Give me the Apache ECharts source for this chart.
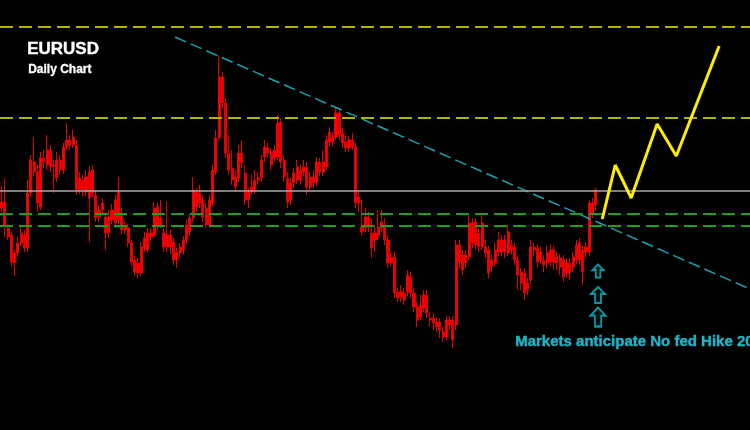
<!DOCTYPE html>
<html>
<head>
<meta charset="utf-8">
<script src="https://cdn.jsdelivr.net/npm/echarts@6/dist/echarts.min.js"></script>
<style>
html,body{margin:0;padding:0;background:#000;}
#chart{width:750px;height:430px;}
</style>
</head>
<body>
<div id="chart"></div>
<script>
// Price levels are in chart units (0 = bottom, 430 = top).
// Candles: [open, close, low, high]
const candles = [
[222,228,218,244],[228,203,193,252],[202,193,190,206],[195,168,164,198],[177,167,154,180],
[177,187,173,194],[187,197,184,204],[195,182,178,200],[182,237,178,250],[237,270,234,275],
[268,258,254,293],[258,227,218,265],[223,272,220,278],[272,268,262,280],[265,280,260,295],
[280,263,258,285],[265,264,237,270],[252,270,248,278],[270,260,255,275],[260,283,256,287],
[283,290,280,307],[290,285,280,295],[285,293,282,300],[285,240,235,290],[240,252,236,258],
[250,240,234,255],[238,253,234,260],[258,232,188,264],[237,260,233,265],[235,212,208,240],
[220,213,208,225],[220,227,216,232],[213,197,180,218],[197,213,192,220],[210,220,206,226],
[230,207,202,235],[210,238,206,253],[217,200,195,222],[203,200,196,208],[202,187,183,206],
[187,168,164,190],[170,158,154,174],[167,157,152,172],[157,183,154,188],[182,192,178,198],
[180,197,177,202],[197,193,188,202],[195,222,192,228],[223,205,200,227],[205,212,202,230],
[197,183,178,202],[183,195,178,228],[195,183,176,200],[188,170,165,192],[170,178,162,182],
[177,183,172,187],[180,190,175,194],[190,205,186,210],[198,212,194,216],[212,240,208,253],
[238,223,218,242],[227,237,222,245],[230,213,208,235],[222,205,202,227],[205,230,202,234],
[227,260,224,265],[258,292,255,300],[292,353,290,375],[353,327,322,358],[327,277,272,332],
[277,260,255,295],[262,250,245,280],[253,243,238,260],[252,277,248,285],[277,267,262,290],
[257,230,225,265],[230,238,222,242],[238,243,235,255],[240,250,236,260],[250,252,245,258],
[252,270,248,275],[273,283,268,290],[282,277,272,287],[278,265,260,282],[272,280,268,285],
[273,307,270,315],[308,268,262,312],[270,253,248,275],[252,228,222,258],[230,247,225,252],
[247,257,242,262],[250,263,246,270],[260,250,245,265],[258,263,254,270],[263,243,235,268],
[243,253,240,258],[253,247,242,260],[248,268,244,273],[268,258,254,272],[258,268,254,280],
[263,290,260,295],[288,298,284,303],[293,288,283,298],[293,317,290,322],[317,295,290,320],
[297,287,282,302],[288,282,278,295],[282,290,278,294],[290,283,280,297],[283,227,222,287],
[233,227,218,240],[203,198,194,230],[202,213,198,222],[213,203,198,218],[197,182,172,212],
[190,197,178,205],[195,203,190,220],[202,208,198,220],[205,190,185,212],[190,167,162,195],
[167,172,164,177],[173,137,132,178],[138,132,128,142],[133,138,128,145],[137,130,125,142],
[138,155,134,160],[153,137,132,158],[137,123,118,142],[123,110,103,128],[113,125,110,135],
[122,135,118,140],[135,117,112,140],[112,110,104,118],[112,107,100,117],[108,103,98,113],
[108,100,92,112],[98,93,88,103],[93,110,90,114],[110,105,100,114],[110,90,82,114],
[105,185,100,190],[185,168,162,190],[175,160,155,180],[167,175,162,180],[173,207,170,215],
[207,187,182,212],[208,185,180,212],[197,183,178,202],[183,207,180,215],[183,177,172,190],
[180,157,152,184],[163,170,158,175],[167,180,164,187],[178,190,174,198],[190,178,174,195],
[178,190,172,195],[177,198,174,205],[185,180,175,190],[183,170,165,187],[170,155,140,175],
[158,147,140,162],[157,137,130,162],[140,147,135,152],[150,183,146,190],[183,180,174,187],
[182,168,162,186],[170,178,166,184],[170,165,158,175],[167,177,162,184],[168,180,164,186],
[180,168,160,184],[173,167,160,178],[172,163,155,176],[170,153,148,175],[157,167,152,172],
[167,157,150,172],[163,173,158,178],[170,185,166,190],[170,187,165,192],[180,158,145,184],
[178,183,172,188],[178,227,174,230],[217,227,212,232],[225,240,220,242]
];
const slotCount = 231;
const days = Array.from({length: slotCount}, (_, i) => 'D' + (i + 1));

const resistanceLevels = [403, 312];
const pivotLevels = [239];
const supportLevels = [216, 204];

const trendX = [53.4, 230.5];
const trendV = [393, 141];

const projX = [185.0, 189.0, 193.9, 201.9, 207.8, 221.0];
const projV = [211, 265, 232, 306, 274, 384];

const arrowX = [183.7, 183.7, 183.7];
const arrowV = [159, 135, 113];
const arrowSizes = [[11, 13], [14, 16], [15, 19]];

const titleText = 'EURUSD';
const subtitleText = 'Daily Chart';
const noteText = 'Markets anticipate No fed Hike 20';

const chart = echarts.init(document.getElementById('chart'));
const FONT = '"Liberation Sans", Arial, sans-serif';
const hLine = (vals, color, type, width) => vals.map(v => ({
  yAxis: v, lineStyle: {color: color, type: type, width: width}
}));

chart.setOption({
  animation: false,
  backgroundColor: '#000000',
  grid: {left: 0, right: 0, top: 0, bottom: 0},
  xAxis: [
    {type: 'category', data: days, boundaryGap: true, show: false},
    {type: 'value', min: -0.5, max: slotCount - 0.5, show: false}
  ],
  yAxis: {type: 'value', min: 0, max: 430, show: false, splitLine: {show: false}},
  graphic: [
    {type: 'text', left: 27, top: 41, style: {text: titleText, fill: '#ffffff', font: 'bold 17px ' + FONT, stroke: '#ffffff', lineWidth: 0.4}},
    {type: 'text', left: 28, top: 64, style: {text: subtitleText, fill: '#ffffff', font: 'bold 12px ' + FONT, stroke: '#ffffff', lineWidth: 0.3}},
    {type: 'text', left: 515, top: 334, style: {text: noteText, fill: '#1fb5c9', font: 'bold 15px ' + FONT, stroke: '#1fb5c9', lineWidth: 0.4}}
  ],
  series: [
    {
      type: 'candlestick',
      xAxisIndex: 0,
      data: candles,
      barWidth: 2.6,
      z: 2,
      itemStyle: {
        color: '#ff0000', color0: '#f00000',
        borderColor: '#e80000', borderColor0: '#e00000', borderWidth: 1
      }
    },
    {
      type: 'line',
      xAxisIndex: 1,
      data: [],
      z: 3,
      markLine: {
        silent: true,
        symbol: ['none', 'none'],
        label: {show: false},
        data: [].concat(
          hLine(resistanceLevels, '#b4b400', [13, 6], 2),
          hLine(pivotLevels, '#a8a8a8', 'solid', 1.5),
          hLine(supportLevels, '#1e9e1e', [13, 6], 2)
        )
      }
    },
    {
      type: 'line',
      xAxisIndex: 1,
      data: trendX.map((x, i) => [x, trendV[i]]),
      symbol: 'none',
      z: 4,
      lineStyle: {color: '#1aa3ad', width: 1.5, type: [12, 5]}
    },
    {
      type: 'line',
      xAxisIndex: 1,
      data: projX.map((x, i) => [x, projV[i]]),
      symbol: 'none',
      z: 5,
      lineStyle: {color: '#ffee00', width: 3}
    },
    {
      type: 'scatter',
      xAxisIndex: 1,
      z: 5,
      data: arrowX.map((x, i) => ({value: [x, arrowV[i]], symbolSize: arrowSizes[i]})),
      symbol: 'path://M6,0 L12,6 L8.5,6 L8.5,14 L3.5,14 L3.5,6 L0,6 Z',
      itemStyle: {color: '#001518', borderColor: '#19b3c2', borderWidth: 2}
    }
  ]
});
</script>
</body>
</html>
